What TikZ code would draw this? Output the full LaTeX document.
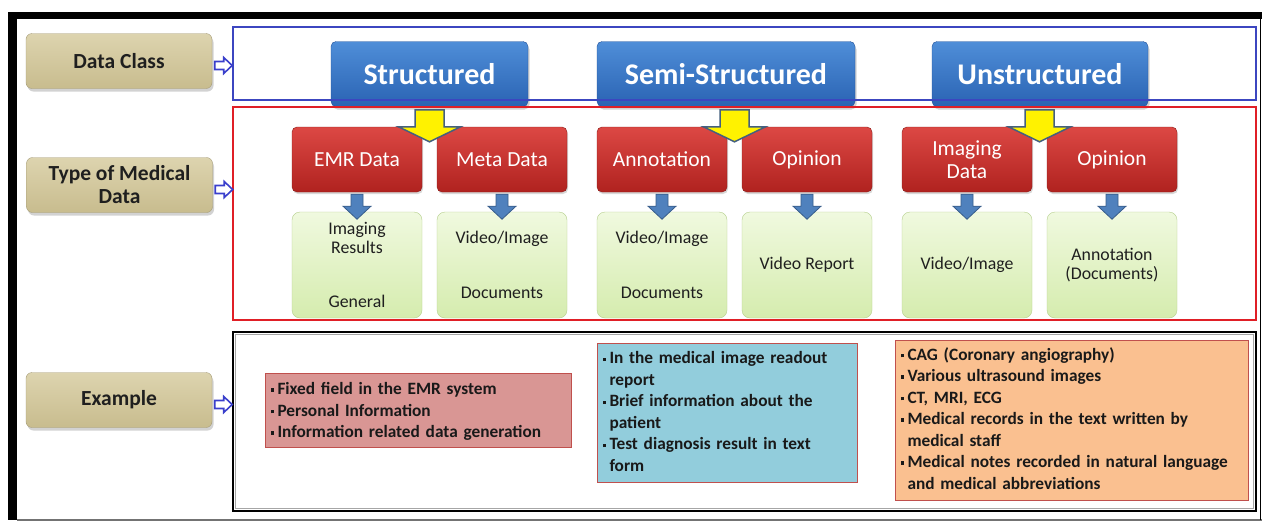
\documentclass[tikz,border=0pt]{standalone}
\usepackage{fontspec}
\setmainfont{Carlito}
\usetikzlibrary{shadows,calc}
\definecolor{tantop}{HTML}{DDD4AF}
\definecolor{tanbot}{HTML}{C8BC8E}
\definecolor{tanbd}{HTML}{A59C78}
\definecolor{hdtop}{HTML}{4F8ED8}
\definecolor{hdbot}{HTML}{2A63B3}
\definecolor{hdbd}{HTML}{24539A}
\definecolor{rdtop}{HTML}{DC4844}
\definecolor{rdbot}{HTML}{B0221F}
\definecolor{rdbd}{HTML}{8C1B18}
\definecolor{grtop}{HTML}{F0F9DF}
\definecolor{grbot}{HTML}{D5ECAE}
\definecolor{grbd}{HTML}{B5CF8C}
\definecolor{arfill}{HTML}{4F81BD}
\definecolor{arbd}{HTML}{385D8A}
\definecolor{ylbd}{HTML}{44607F}
\definecolor{pinkf}{HTML}{D99694}
\definecolor{exbd}{HTML}{C0504D}
\definecolor{tealf}{HTML}{92CDDC}
\definecolor{orgf}{HTML}{FAC090}
\definecolor{bframe}{HTML}{3C46C0}
\definecolor{rframe}{HTML}{E01F26}
\definecolor{harbd}{HTML}{3A3FCC}
\newcommand\bitem{\par\hangindent=6.5pt\hangafter=1\noindent\makebox[6.5pt][l]{\raisebox{0.35ex}{\rule{3.4pt}{3.4pt}}}}
\newcommand\brk{\hfil\break}
\begin{document}
\begin{tikzpicture}[x=1pt,y=-1pt,
  rowlabel/.style={draw=tanbd, rounded corners=6pt, top color=tantop, bottom color=tanbot,
    minimum width=186pt, minimum height=55pt, inner sep=0pt, align=center,
    font=\bfseries\fontsize{21.5}{23}\selectfont, text=black!88,
    drop shadow={shadow xshift=1.5pt, shadow yshift=-3pt, opacity=0.35}},
  hdr/.style={draw=hdbd, rounded corners=5pt, top color=hdtop, bottom color=hdbot,
    minimum height=65pt, inner sep=0pt, text=white, font=\bfseries\fontsize{30}{32}\selectfont,
    drop shadow={shadow xshift=1.5pt, shadow yshift=-3pt, opacity=0.35}},
  typebox/.style={draw=rdbd, rounded corners=5pt, top color=rdtop, bottom color=rdbot,
    minimum width=130pt, minimum height=65pt, inner sep=0pt, text=white, align=center,
    font=\fontsize{21.5}{23}\selectfont,
    drop shadow={shadow xshift=1pt, shadow yshift=-2pt, opacity=0.3}},
  leafbox/.style={draw=grbd, rounded corners=8pt, top color=grtop, bottom color=grbot,
    minimum width=130pt, minimum height=106pt, inner sep=0pt, align=center, text=black!88,
    font=\fontsize{17.8}{19}\selectfont},
  exbox/.style={draw=exbd, line width=0.8pt, inner xsep=6pt, inner ysep=0pt,
    font=\bfseries\fontsize{17.3}{21.5}\selectfont, text=black!90},
  yarrow/.style={fill=yellow, draw=ylbd, line width=1.5pt, line join=miter},
  barrow/.style={fill=arfill, draw=arbd, line width=0.8pt},
  harrow/.style={fill=white, draw=harbd, line width=1.6pt, line join=miter},
]
\useasboundingbox (0,0) rectangle (1262,523);
\fill[white] (0,0) rectangle (1262,523);
% outer frame
\fill[black] (8,12) rectangle (1262,19);
\fill[black] (8,12) rectangle (17,520);
\draw[black!55, line width=1.2pt] (17,520) -- (1262,520);
\draw[black, line width=1.2pt] (1260.5,19) -- (1260.5,520);

% row labels
\node[rowlabel] (dc) at (119,61) {Data Class};
\node[rowlabel] (tm) at (119.5,185) {Type of Medical\\Data};
\node[rowlabel] (ex) at (119,400) {Example};

% headers
\node[hdr, minimum width=197pt] (h1) at (429.5,74) {Structured};
\node[hdr, minimum width=258pt] (h2) at (726,74) {Semi-Structured};
\node[hdr, minimum width=216pt] (h3) at (1040,74) {Unstructured};

% frames
\draw[bframe, line width=2pt] (233,27) rectangle (1256,100);
\draw[rframe, line width=2pt] (233,107) rectangle (1256,320);
\draw[black, line width=2.5pt] (233,332) rectangle (1256,511);
\draw[black!35, line width=0.8pt] (235.5,334.5) rectangle (1253.5,508.5);

% type boxes
\node[typebox] (emr) at (357,159.5) {EMR Data};
\node[typebox] (meta) at (502,159.5) {Meta Data};
\node[typebox] (ann) at (662,159.5) {Annotation};
\node[typebox] (op1) at (807,159.5) {Opinion};
\node[typebox] (img) at (967,159.5) {Imaging\\Data};
\node[typebox] (op2) at (1112,159.5) {Opinion};

% leaf boxes
\node[leafbox] (l1) at (357,265) {Imaging\\Results\\[35pt]General};
\node[leafbox] (l2) at (502,265) {Video/Image\\[36pt]Documents};
\node[leafbox] (l3) at (662,265) {Video/Image\\[36pt]Documents};
\node[leafbox] (l4) at (807,265) {Video Report};
\node[leafbox] (l5) at (967,265) {Video/Image};
\node[leafbox] (l6) at (1112,265) {Annotation\\(Documents)};

% yellow arrows from headers to type-box pairs
\coordinate (y1) at ($(emr.north east)!0.5!(meta.north west)$);
\coordinate (y2) at ($(ann.north east)!0.5!(op1.north west)$);
\coordinate (y3) at ($(img.north east)!0.5!(op2.north west)$);
\foreach \c in {y1,y2,y3}{
  \draw[yarrow] ($(\c)+(-14.5,-17)$) -- ++(29,0) -- ++(0,17) -- ++(16.5,0) -- ++(-31,15) -- ++(-31,-15) -- ++(16.5,0) -- cycle;
}

% blue arrows from type boxes to leaf boxes
\foreach \s in {emr,meta,ann,op1,img,op2}{
  \draw[barrow] ($(\s.south)+(-6,2)$) -- ++(12,0) -- ++(0,12) -- ++(8,0) -- ++(-14,13) -- ++(-14,-13) -- ++(8,0) -- cycle;
}

% hollow arrows from row labels to frames
\foreach \s in {dc,tm,ex}{
  \draw[harrow] ($(\s.east)+(2.5,0.5)$) -- ++(9,0) -- ++(0,-4) -- ++(8.5,8) -- ++(-8.5,8) -- ++(0,-4) -- ++(-9,0) -- cycle;
}

% example boxes
\node[exbox, fill=pinkf, text width=294pt, minimum height=74pt] (e1) at (418,410)
  {\vskip-6pt\raggedright\bitem Fixed field in the EMR system\bitem Personal Information\bitem Information related data generation\par};
\node[exbox, fill=tealf, text width=248pt, minimum height=139pt] (e2) at (727,412.5)
  {\vskip-11pt\raggedright\bitem In the medical image readout\brk report\bitem Brief information about the\brk patient\bitem Test diagnosis result in text\brk form\par};
\node[exbox, fill=orgf, text width=341pt, minimum height=160pt] (e3) at (1071.5,420)
  {\vskip-12pt\raggedright\bitem CAG (Coronary angiography)\bitem Various ultrasound images\bitem CT, MRI, ECG\bitem Medical records in the text written by\brk medical staff\bitem Medical notes recorded in natural language\brk and medical abbreviations\par};
\end{tikzpicture}
\end{document}
